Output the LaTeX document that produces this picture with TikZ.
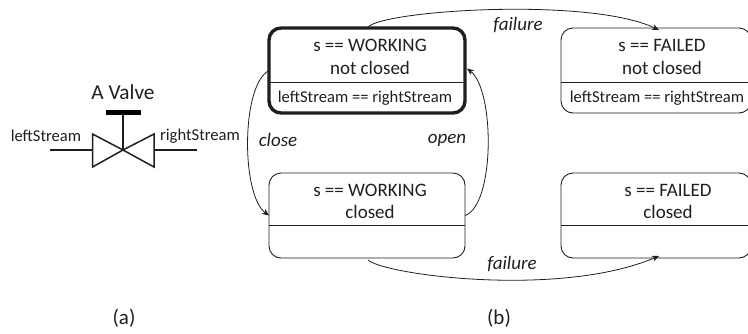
\documentclass[tikz,border=0pt]{standalone}
\usepackage{fontspec}
\setmainfont{Carlito}
\usetikzlibrary{arrows.meta}
\definecolor{ink}{gray}{0.12}
\tikzset{
  statebox/.style={draw=ink,line width=0.9pt,rounded corners=12pt,minimum width=196pt,minimum height=85pt,inner sep=0pt,outer sep=0pt},
  failbox/.style={statebox,minimum width=190pt},
  activebox/.style={statebox,line width=3.4pt},
  big/.style={font=\fontsize{19}{22}\selectfont,text=ink,inner sep=0pt,align=center},
  small/.style={font=\fontsize{16.6}{18}\selectfont,text=ink,inner sep=0pt},
  evt/.style={font=\fontsize{19}{20}\selectfont\itshape,text=ink,inner sep=0pt},
  conn/.style={draw=ink,line width=0.8pt,-{Stealth[length=7pt,width=6pt]}},
  pipe/.style={draw=ink,line width=1.1pt},
  divider/.style={draw=ink,line width=0.9pt}
}
\begin{document}
\begin{tikzpicture}[x=1pt,y=-1pt]
\useasboundingbox (0,0) rectangle (748,333);
% valve
\coordinate (vc) at (123,150);
\coordinate (lp) at (50,150);
\coordinate (rp) at (197,150);
\coordinate (tl) at (92.5,134);
\coordinate (bl) at (92.5,167);
\coordinate (tr) at (154,134);
\coordinate (br) at (154,167);
\coordinate (lm) at (92.5,150);
\coordinate (rm) at (154,150);
\coordinate (st) at (123,112);
\draw[pipe,line width=1.5pt,line join=miter] (vc) -- (tl) -- (bl) -- cycle;
\draw[pipe,line width=1.5pt,line join=miter] (vc) -- (tr) -- (br) -- cycle;
\draw[pipe] (lp) -- (lm);
\draw[pipe] (rm) -- (rp);
\draw[pipe] (vc) -- (st);
\draw[draw=black,line width=5pt] (106,112) -- (141,112);
\node[big,font=\fontsize{21.3}{24}\selectfont] (vt) at (123,92) {A Valve};
\node[small] (ls) at (46,136) {leftStream};
\node[small] (rs) at (200,136) {rightStream};
\node[big,font=\fontsize{21}{24}\selectfont] (ca) at (124,318) {(a)};
\node[big,font=\fontsize{21}{24}\selectfont] (cb) at (499,318) {(b)};
% states
\begin{scope}
\clip (0,0) rectangle (748,333);
\node[activebox] (w1) at (367,70.5) {};
\node[failbox] (f1) at (656,70.5) {};
\node[statebox] (w2) at (367,215.5) {};
\node[failbox] (f2) at (656,215.5) {};
\draw[divider] (269,82) -- (465,82);
\draw[divider] (561,82) -- (748,82);
\draw[divider] (269,225) -- (465,225);
\draw[divider] (561,225) -- (748,225);
\end{scope}
\node[big] (w1a) at (370,45) {s == WORKING};
\node[big] (w1b) at (370,68) {not closed};
\node[small] (w1c) at (365,98) {leftStream == rightStream};
\node[big] (f1a) at (662,45) {s == FAILED};
\node[big] (f1b) at (662,68) {not closed};
\node[small] (f1c) at (657,98) {leftStream == rightStream};
\node[big] (w2a) at (370,190) {s == WORKING};
\node[big] (w2b) at (370,212) {closed};
\node[big] (f2a) at (668,190) {s == FAILED};
\node[big] (f2b) at (668,212) {closed};
% transitions
\draw[conn] (w1.north) ++(1,-1) .. controls (385,10) and (590,-3) .. ([xshift=3pt,yshift=-2pt]f1.north);
\draw[conn] ([yshift=-1pt]w2.south) ++(1,1) .. controls (385,275) and (560,298) .. ([xshift=3pt,yshift=2pt]f2.south);
\draw[conn] ([yshift=0pt]w1.west) .. controls (241,85) and (241,195) .. ([yshift=0pt]w2.west);
\draw[conn] (w2.east) .. controls (495,205) and (495,90) .. ([xshift=2pt,yshift=2pt]w1.east);
\node[evt] (e1) at (518,25) {failure};
\node[evt] (e2) at (278,140) {close};
\node[evt] (e3) at (447,140) {open};
\node[evt] (e4) at (512,264) {failure};
\end{tikzpicture}
\end{document}
